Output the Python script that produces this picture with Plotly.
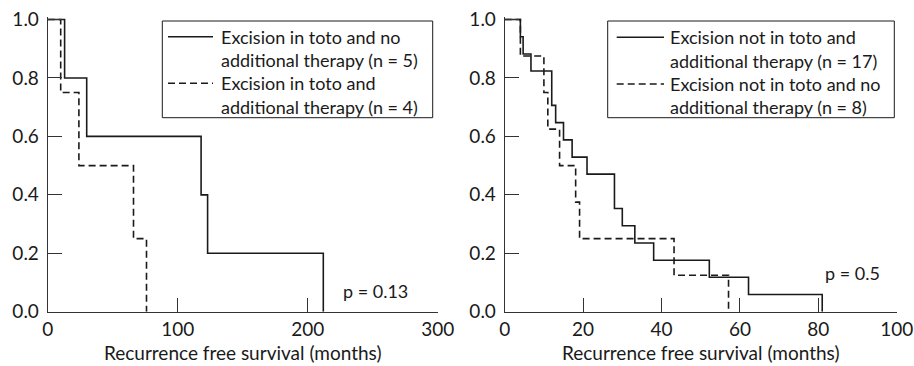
import plotly.graph_objects as go
from plotly.subplots import make_subplots

# ---------------- data ----------------
left_solid_t = [0, 13, 30, 118, 123, 212]
left_solid_s = [1.0, 0.8, 0.6, 0.4, 0.2, 0.0]
left_dash_t = [0, 10, 24, 66, 76]
left_dash_s = [1.0, 0.75, 0.5, 0.25, 0.0]

right_solid_t = [0, 4, 4.7, 6.7, 12, 13, 15, 17.2, 21, 28, 30, 33.2, 38, 52.2, 62.2, 81]
right_solid_s = [1.0, 0.941, 0.882, 0.824, 0.706, 0.647, 0.588, 0.529, 0.471,
                 0.353, 0.294, 0.235, 0.176, 0.118, 0.059, 0.0]
right_dash_t = [0, 4, 10, 11, 14, 18.1, 19.1, 43.2, 57.1]
right_dash_s = [1.0, 0.875, 0.75, 0.625, 0.5, 0.375, 0.25, 0.125, 0.0]

left_names = ["Excision in toto and no", "additional therapy (n = 5)",
              "Excision in toto and", "additional therapy (n = 4)"]
right_names = ["Excision not in toto and", "additional therapy (n = 17)",
               "Excision not in toto and no", "additional therapy (n = 8)"]
left_p = "p = 0.13"
right_p = "p = 0.5"
x_title = "Recurrence free survival (months)"
y_ticks = [0, 0.2, 0.4, 0.6, 0.8, 1.0]
left_x_ticks = [0, 100, 200, 300]
right_x_ticks = [0, 20, 40, 60, 80, 100]

# ---------------- figure ----------------
W, H = 914, 366
FONT = "Lato"
INK = "#1a1a1a"
AX = "#333333"

fig = make_subplots(rows=1, cols=2)

def add_curve(t, s, dash, col):
    fig.add_trace(go.Scatter(x=t, y=s, mode="lines", line_shape="hv",
                             line=dict(color=INK, width=1.6, dash=dash),
                             showlegend=False, hoverinfo="skip"), row=1, col=col)

add_curve(left_solid_t, left_solid_s, "solid", 1)
add_curve(left_dash_t, left_dash_s, "7px,4px", 1)
add_curve(right_solid_t, right_solid_s, "solid", 2)
add_curve(right_dash_t, right_dash_s, "7px,4px", 2)

def px(xp):
    return xp / W

def py(yp):
    return (H - yp) / H

y_dom = [py(311.7), py(16.6)]
axis_common = dict(showline=True, linecolor=AX, linewidth=1, ticks="inside",
                   ticklen=14, tickwidth=1, tickcolor=AX, showgrid=False,
                   zeroline=False, automargin=False,
                   tickfont=dict(family=FONT, size=19, color=INK))
title_font = dict(family=FONT, size=19, color=INK)

fig.update_xaxes(range=[0, 300], tickvals=left_x_ticks, domain=[px(47.7), px(437.7)],
                 title=dict(text=x_title, font=title_font, standoff=8),
                 row=1, col=1, **axis_common)
fig.update_xaxes(range=[0, 100], tickvals=right_x_ticks, domain=[px(504.7), px(896.7)],
                 title=dict(text=x_title, font=title_font, standoff=8),
                 row=1, col=2, **axis_common)
for c in (1, 2):
    fig.update_yaxes(range=[0, 1.01], tickvals=y_ticks, tickformat=".1f", domain=y_dom,
                     ticklabelstandoff=4, row=1, col=c, **axis_common)

# p-values
fig.add_annotation(x=252.5, y=0.072, xref="x", yref="y", text=left_p, showarrow=False,
                   font=dict(family=FONT, size=18, color=INK))
fig.add_annotation(x=88.6, y=0.132, xref="x2", yref="y2", text=right_p, showarrow=False,
                   font=dict(family=FONT, size=18, color=INK))

# legends (boxes with line keys and labels)
def legend(box, key_x, text_x, line_ys, names):
    x0, x1, y0, y1 = box
    fig.add_shape(type="rect", xref="paper", yref="paper", x0=px(x0), x1=px(x1),
                  y0=py(y1), y1=py(y0), line=dict(color=INK, width=1), fillcolor="white")
    for k, dash in ((0, "solid"), (2, "7px,4px")):
        fig.add_shape(type="line", xref="paper", yref="paper", x0=px(key_x[0]), x1=px(key_x[1]),
                      y0=py(line_ys[k]), y1=py(line_ys[k]),
                      line=dict(color=INK, width=1.6, dash=dash))
    for yl, name in zip(line_ys, names):
        fig.add_annotation(x=px(text_x), y=py(yl), xref="paper", yref="paper", text=name,
                           showarrow=False, xanchor="left", yanchor="middle",
                           font=dict(family=FONT, size=18, color=INK))

legend((162.3, 432.7, 21, 117.7), (168, 213), 219.3, [36.7, 60, 83.3, 106.7], left_names)
legend((607.7, 894.3, 21, 117.7), (616.7, 664), 668.3, [37.3, 60.6, 84, 107.3], right_names)

fig.update_layout(width=W, height=H, margin=dict(l=0, r=0, t=0, b=0),
                  paper_bgcolor="white", plot_bgcolor="white",
                  font=dict(family=FONT, size=18, color=INK), showlegend=False)

fig.write_html("out.html", config={"displayModeBar": False},
               post_script="document.body.style.margin='0';document.body.style.overflow='hidden';")
